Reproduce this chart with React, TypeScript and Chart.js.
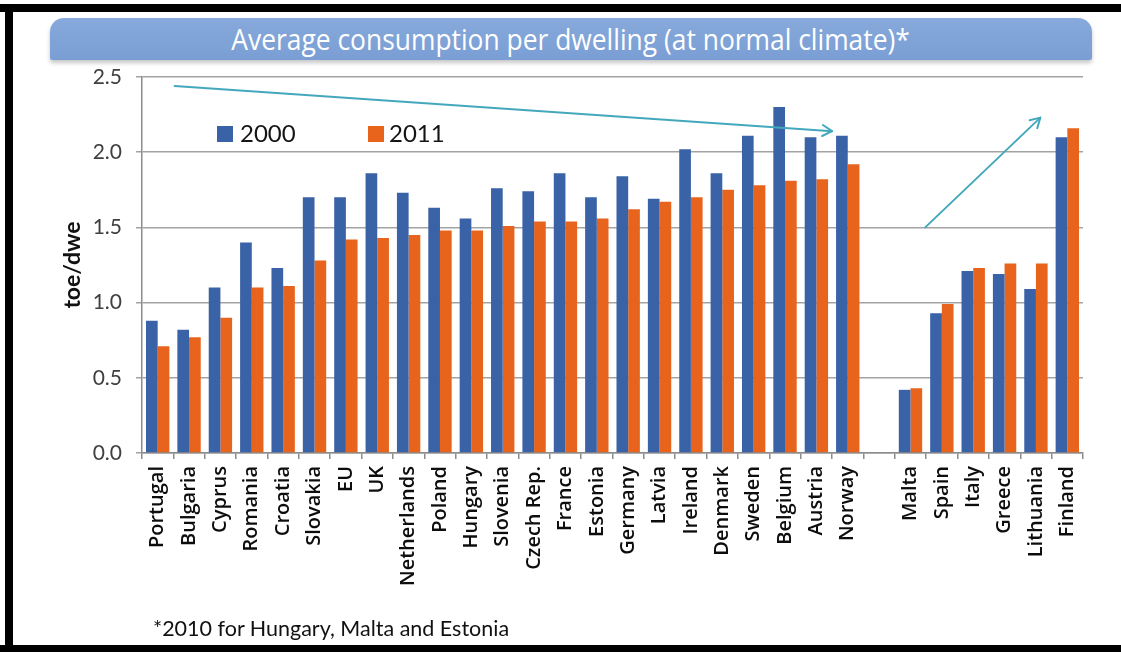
import React, { useEffect, useRef } from 'react';
import { Chart, registerables } from 'chart.js';

Chart.register(...registerables);

// Countries on the category axis; the empty entry separates the two groups.
const countries = [
  'Portugal', 'Bulgaria', 'Cyprus', 'Romania', 'Croatia', 'Slovakia', 'EU', 'UK',
  'Netherlands', 'Poland', 'Hungary', 'Slovenia', 'Czech Rep.', 'France', 'Estonia',
  'Germany', 'Latvia', 'Ireland', 'Denmark', 'Sweden', 'Belgium', 'Austria', 'Norway',
  '',
  'Malta', 'Spain', 'Italy', 'Greece', 'Lithuania', 'Finland',
];

// Average consumption per dwelling, toe/dwe
const values2000 = [
  0.88, 0.82, 1.10, 1.40, 1.23, 1.70, 1.70, 1.86, 1.73, 1.63, 1.56, 1.76, 1.74, 1.86, 1.70,
  1.84, 1.69, 2.02, 1.86, 2.11, 2.30, 2.10, 2.11,
  null,
  0.42, 0.93, 1.21, 1.19, 1.09, 2.10,
];
const values2011 = [
  0.71, 0.77, 0.90, 1.10, 1.11, 1.28, 1.42, 1.43, 1.45, 1.48, 1.48, 1.51, 1.54, 1.54, 1.56,
  1.62, 1.67, 1.70, 1.75, 1.78, 1.81, 1.82, 1.92,
  null,
  0.43, 0.99, 1.23, 1.26, 1.26, 2.16,
];

const seriesNames = ['2000', '2011'];
const seriesColors = ['#3a62a7', '#e8631b'];

const yMin = 0;
const yMax = 2.5;
const yStep = 0.5;

// Trend arrows in data space: [category index, value]
const trendArrows = [
  { from: [0.54, 2.44], to: [21.5, 2.14] },
  { from: [24.47, 1.5], to: [28.14, 2.23] },
];

const titleText = 'Average consumption per dwelling (at normal climate)*';
const footnoteText = '*2010 for Hungary, Malta and Estonia';
const yAxisTitle = 'toe/dwe';

const arrowPlugin = {
  id: 'trendArrows',
  afterDatasetsDraw(chart: any) {
    const { ctx } = chart;
    const xs = chart.scales.x;
    const ys = chart.scales.y;
    ctx.save();
    ctx.strokeStyle = '#44a8bd';
    ctx.lineWidth = 2;
    ctx.lineCap = 'round';
    ctx.lineJoin = 'round';
    for (const a of trendArrows) {
      const x0 = xs.getPixelForValue(a.from[0]);
      const y0 = ys.getPixelForValue(a.from[1]);
      const x1 = xs.getPixelForValue(a.to[0]);
      const y1 = ys.getPixelForValue(a.to[1]);
      ctx.beginPath();
      ctx.moveTo(x0, y0);
      ctx.lineTo(x1, y1);
      ctx.stroke();
      const ang = Math.atan2(y1 - y0, x1 - x0);
      const len = 11;
      const spread = Math.PI / 6;
      ctx.beginPath();
      ctx.moveTo(x1 - len * Math.cos(ang - spread), y1 - len * Math.sin(ang - spread));
      ctx.lineTo(x1, y1);
      ctx.lineTo(x1 - len * Math.cos(ang + spread), y1 - len * Math.sin(ang + spread));
      ctx.stroke();
    }
    ctx.restore();
  },
};

export default function App() {
  const canvasRef = useRef<HTMLCanvasElement | null>(null);

  useEffect(() => {
    const canvas = canvasRef.current;
    if (!canvas) return;
    const chart = new Chart(canvas, {
      type: 'bar',
      data: {
        labels: countries,
        datasets: [
          {
            label: seriesNames[0],
            data: values2000,
            backgroundColor: seriesColors[0],
            categoryPercentage: 0.745,
            barPercentage: 1.0,
          },
          {
            label: seriesNames[1],
            data: values2011,
            backgroundColor: seriesColors[1],
            categoryPercentage: 0.745,
            barPercentage: 1.0,
          },
        ],
      },
      options: {
        responsive: false,
        animation: false,
        devicePixelRatio: 1,
        layout: { padding: { top: 77, right: 38, left: 0, bottom: 0 } },
        plugins: {
          legend: { display: false },
          tooltip: { enabled: false },
          title: { display: false },
        },
        scales: {
          x: {
            offset: true,
            afterFit: (s: any) => {
              s.height = 199;
            },
            border: { display: true, color: '#8c8c8c', width: 1.5 },
            grid: {
              offset: true,
              drawOnChartArea: false,
              drawTicks: true,
              tickLength: 6,
              color: '#8c8c8c',
              lineWidth: 1.5,
            },
            ticks: {
              autoSkip: false,
              minRotation: 90,
              maxRotation: 90,
              padding: 7,
              color: '#0d0d0d',
              font: { family: 'Open Sans', size: 20, weight: '600' },
            },
          },
          y: {
            min: yMin,
            max: yMax,
            afterFit: (s: any) => {
              s.width = 142;
            },
            border: { display: true, color: '#8c8c8c', width: 1.5 },
            grid: {
              color: '#a3a3a3',
              lineWidth: 1.5,
              drawTicks: true,
              tickLength: 6,
            },
            ticks: {
              stepSize: yStep,
              padding: 14,
              color: '#404040',
              font: { family: 'Lato', size: 21 },
              callback: (v: any) => Number(v).toFixed(1),
            },
            title: {
              display: true,
              text: yAxisTitle,
              color: '#111111',
              font: { family: 'Lato', size: 23, weight: 'bold' },
              padding: { top: 59, bottom: 0 },
            },
          },
        },
      },
      plugins: [arrowPlugin],
    });
    return () => chart.destroy();
  }, []);

  return (
    <div
      style={{
        position: 'fixed',
        left: 0,
        top: 0,
        width: 1121,
        height: 652,
        background: '#ffffff',
        overflow: 'hidden',
      }}
    >
      {/* slide frame */}
      <div style={{ position: 'absolute', left: 0, top: 4, width: 1121, height: 8, background: '#000' }} />
      <div style={{ position: 'absolute', left: 5, top: 4, width: 8, height: 648, background: '#000' }} />
      <div style={{ position: 'absolute', left: 0, top: 645, width: 1121, height: 7, background: '#000' }} />

      {/* title banner */}
      <div
        style={{
          position: 'absolute',
          left: 50,
          top: 18,
          width: 1042,
          height: 42,
          borderRadius: '14px 14px 2px 2px',
          background: 'linear-gradient(#87a9db, #7a9ed4)',
          boxShadow: '0 3px 4px rgba(0,0,0,0.22)',
          display: 'flex',
          alignItems: 'center',
          justifyContent: 'center',
        }}
      >
        <span
          style={{
            display: 'inline-block',
            color: '#ffffff',
            fontFamily: '"Open Sans", sans-serif',
            fontSize: 30,
            lineHeight: '42px',
            whiteSpace: 'nowrap',
            transform: 'scaleX(0.88)',
            transformOrigin: 'center',
          }}
        >
          {titleText}
        </span>
      </div>

      <canvas
        ref={canvasRef}
        width={1121}
        height={652}
        style={{ position: 'absolute', left: 0, top: 0, width: 1121, height: 652 }}
      />

      {/* legend */}
      <div style={{ position: 'absolute', left: 217, top: 126, width: 16, height: 16, background: seriesColors[0] }} />
      <div
        style={{
          position: 'absolute',
          left: 240,
          top: 121,
          fontFamily: 'Lato, sans-serif',
          fontSize: 24,
          lineHeight: 1,
          color: '#141414',
        }}
      >
        {seriesNames[0]}
      </div>
      <div style={{ position: 'absolute', left: 368, top: 126, width: 16, height: 16, background: seriesColors[1] }} />
      <div
        style={{
          position: 'absolute',
          left: 389,
          top: 121,
          fontFamily: 'Lato, sans-serif',
          fontSize: 24,
          lineHeight: 1,
          color: '#141414',
        }}
      >
        {seriesNames[1]}
      </div>

      {/* footnote */}
      <div
        style={{
          position: 'absolute',
          left: 153,
          top: 618,
          fontFamily: 'Lato, sans-serif',
          fontSize: 21.5,
          lineHeight: 1,
          color: '#111111',
          whiteSpace: 'nowrap',
        }}
      >
        {footnoteText}
      </div>
    </div>
  );
}
